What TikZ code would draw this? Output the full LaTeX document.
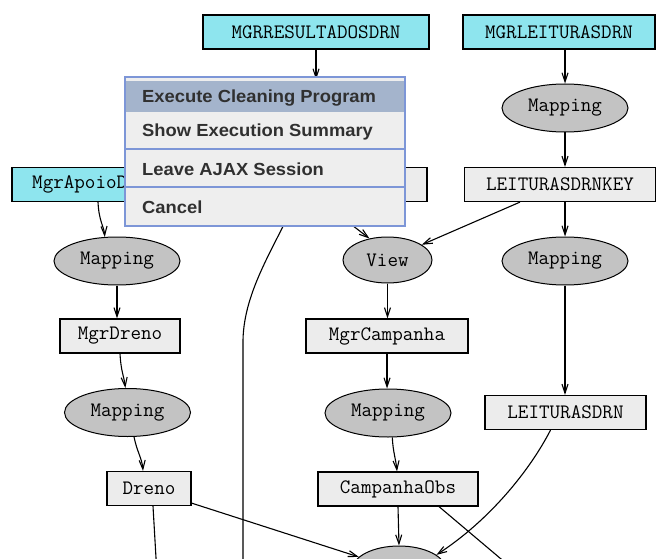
\documentclass[tikz,border=0pt]{standalone}
\usepackage{fontspec}
\usetikzlibrary{shapes.geometric,arrows.meta}
\newcommand\gmono{\ttfamily}
\newfontfamily\menufont{Liberation Sans}[FakeStretch=1.05]
\definecolor{cyanfill}{RGB}{142,229,238}
\definecolor{boxfill}{RGB}{236,236,236}
\definecolor{ellfill}{RGB}{195,195,195}
\definecolor{menubg}{RGB}{238,238,238}
\definecolor{menuhl}{RGB}{164,180,204}
\definecolor{menuline}{RGB}{125,150,215}
\definecolor{menutext}{RGB}{48,48,48}
\tikzset{
  gnode/.style={draw=black, line width=1.2pt, font=\gmono\fontsize{20.5}{20.5}\selectfont, inner sep=0pt, text=black},
  cyanbox/.style={gnode, rectangle, fill=cyanfill, minimum height=34pt},
  graybox/.style={gnode, rectangle, fill=boxfill, minimum height=34pt},
  mapell/.style={gnode, ellipse, fill=ellfill, line width=1pt, minimum width=126pt, minimum height=48pt},
  conn/.style={line width=1.1pt, -{Straight Barb[length=9pt,width=6pt]}},
  plainconn/.style={line width=1.1pt},
  menuitem/.style={anchor=base west, inner sep=0pt, font=\menufont\bfseries\fontsize{17.5}{17.5}\selectfont, text=menutext},
}
\begin{document}
\begin{tikzpicture}[x=1pt,y=-1pt]
\useasboundingbox (0,0) rectangle (656,559);
\clip (0,0) rectangle (656,559);
\fill[white] (0,0) rectangle (656,559);
% nodes
\node[cyanbox, minimum width=226pt] (mgrres) at (316,32) {MGRRESULTADOSDRN};
\node[cyanbox, minimum width=192pt] (mgrlei) at (559,32) {MGRLEITURASDRN};
\node[mapell] (mapR1) at (565,108) {Mapping};
\node[graybox, minimum width=191pt] (leikey) at (560,184.5) {LEITURASDRNKEY};
\node[mapell] (mapR2) at (565,261) {Mapping};
\node[graybox, minimum width=161pt] (leidrn) at (565.5,412.5) {LEITURASDRN};
\node[mapell] (mapH) at (316,104) {};
\node[graybox, minimum width=191pt] (reskey) at (331.5,184.5) {};
\node[cyanbox, minimum width=172pt] (apoio) at (98,184.5) {};
\node[anchor=west, inner sep=0pt, font=\gmono\fontsize{20.5}{20.5}\selectfont] (apoiotxt) at (32,184.5) {MgrApoioD};
\node[mapell] (mapL1) at (117,261) {Mapping};
\node[graybox, minimum width=120pt] (mgrdreno) at (120,336) {MgrDreno};
\node[mapell] (mapL2) at (127.5,412.5) {Mapping};
\node[graybox, minimum width=84pt] (dreno) at (149,488.5) {Dreno};
\node[mapell, minimum width=89pt, minimum height=46pt] (view) at (387.5,260) {View};
\node[graybox, minimum width=162pt] (mgrcamp) at (387,336) {MgrCampanha};
\node[mapell] (mapC) at (388,413) {Mapping};
\node[graybox, minimum width=160pt] (campobs) at (398,489) {CampanhaObs};
\node[mapell, minimum width=94pt, minimum height=48pt] (bottom) at (399,570) {};
\coordinate (drenoEnd) at (157,575);
\coordinate (longEnd) at (243,575);
\coordinate (campEnd) at (520,575);
% connectors
\draw[conn] (mgrres.south) -- (mapH.north);
\draw[conn] (mapH.south) -- (mapH.south |- reskey.north);
\draw[conn] (mapR1.north |- mgrlei.south) -- (mapR1.north);
\draw[conn] (mapR1.south) -- (mapR1.south |- leikey.north);
\draw[conn] (mapR2.north |- leikey.south) -- (mapR2.north);
\draw[conn] (mapR2.south) -- (mapR2.south |- leidrn.north);
\draw[conn] ([xshift=-40pt]leikey.south) -- (view.24);
\draw[conn] ([xshift=-9.5pt]reskey.south) -- (view.130);
\draw[plainconn] ([xshift=-37pt]reskey.south) .. controls (276,245) and (244,290) .. (243,340) -- (longEnd);
\draw[conn] (apoio.south) .. controls (99,222) and (104,226) .. (mapL1.117);
\draw[conn] (mapL1.south) -- (mapL1.south |- mgrdreno.north);
\draw[conn] (mgrdreno.south) .. controls (121,372) and (124,376) .. (mapL2.95);
\draw[conn] (mapL2.-75) .. controls (137,452) and (142,458) .. ([xshift=-6pt]dreno.north);
\draw[plainconn] ([xshift=4pt]dreno.south) -- (drenoEnd);
\draw[conn] ([yshift=3pt]dreno.south east) -- (bottom.162);
\draw[conn] (view.south) -- (view.south |- mgrcamp.north);
\draw[conn] (mgrcamp.south) -- (mgrcamp.south |- mapC.north);
\draw[conn] (mapC.-80) .. controls (393,452) and (396,460) .. ([xshift=-1pt]campobs.north);
\draw[conn] (campobs.south) -- (bottom.north);
\draw[plainconn] ([xshift=41pt]campobs.south) -- (campEnd);
\draw[conn] ([xshift=-15pt]leidrn.south) .. controls (530,470) and (490,520) .. (bottom.22);
% popup menu
\fill[menubg] (125,77) rectangle (405,226);
\fill[menuhl] (126,81) rectangle (404,112);
\draw[menuline, line width=1.2pt] (125,149) -- (405,149);
\draw[menuline, line width=1.2pt] (125,187) -- (405,187);
\draw[menuline, line width=1.5pt] (125,77) rectangle (405,226);
\node[menuitem] (m1) at (142,103) {Execute Cleaning Program};
\node[menuitem] (m2) at (142,137) {Show Execution Summary};
\node[menuitem] (m3) at (142,175.3) {Leave AJAX Session};
\node[menuitem] (m4) at (142,213) {Cancel};
\end{tikzpicture}
\end{document}
